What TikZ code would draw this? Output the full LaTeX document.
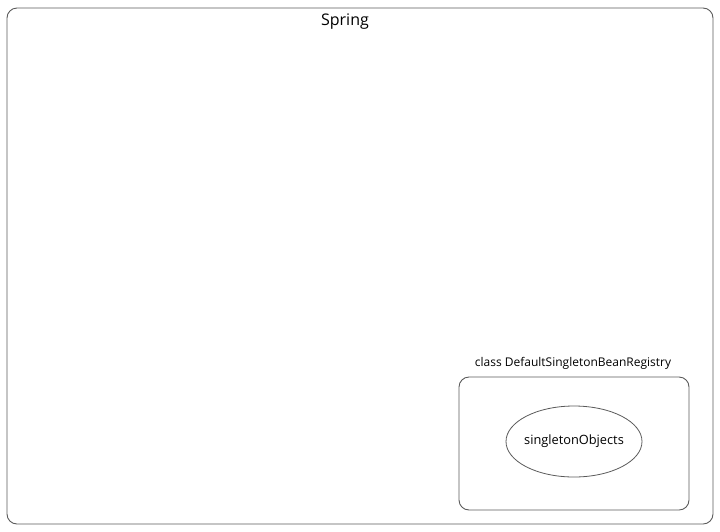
\documentclass[tikz,border=0pt]{standalone}
\usepackage{fontspec}
\setmainfont{Open Sans}
\usetikzlibrary{shapes.geometric}
\definecolor{linegray}{RGB}{90,90,90}
\tikzset{
  frame/.style={draw=linegray, line width=0.9pt, rounded corners=10pt},
  bean/.style={ellipse, draw=linegray, line width=0.8pt, minimum width=136pt, minimum height=71pt, inner xsep=-8pt, inner ysep=0pt, font=\fontsize{12.8}{15}\selectfont},
}
\begin{document}
\begin{tikzpicture}[x=1pt, y=-1pt]
\useasboundingbox (0,0) rectangle (720,531);
\draw[frame] (7,8) rectangle (713,524);
\node[font=\fontsize{16}{18}\selectfont] (spring) at (345,22) {Spring};
\draw[frame] (459,377) rectangle (689,510);
\node[font=\fontsize{12}{14}\selectfont] (registry) at (573,363) {class DefaultSingletonBeanRegistry};
\node[bean] (objects) at (574,441.5) {singletonObjects};
\end{tikzpicture}
\end{document}
